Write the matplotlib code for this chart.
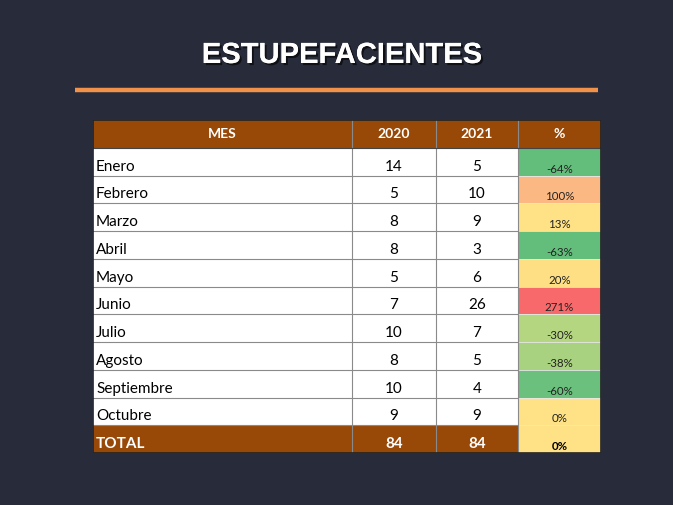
import matplotlib
matplotlib.use("Agg")
import matplotlib.pyplot as plt
from matplotlib.patches import Rectangle
import matplotlib.patheffects as pe

# ---- data ----
months = ["Enero", "Febrero", "Marzo", "Abril", "Mayo", "Junio", "Julio",
          "Agosto", "Septiembre", "Octubre"]
v2020 = [14, 5, 8, 8, 5, 7, 10, 8, 10, 9]
v2021 = [5, 10, 9, 3, 6, 26, 7, 5, 4, 9]
pct = [-64, 100, 13, -63, 20, 271, -30, -38, -60, 0]
pct_colors = ["#63be7b", "#fbb883", "#ffe285", "#63be7b", "#fedf83", "#f8696b",
              "#b5d680", "#a8d27f", "#6ac07c", "#ffe285"]
headers = ["MES", "2020", "2021", "%"]
total_label = "TOTAL"
total_2020 = 84
total_2021 = 84
total_pct = 0
total_pct_color = "#ffe285"
title = "ESTUPEFACIENTES"

# ---- style ----
W, H = 673, 505
bg = "#282c3a"
brown = "#984807"
orange_line = "#f0924a"
font = "Lato"
fs_body = 11
fs_pct = 8.3
ty = 0.68
py = 0.77

fig = plt.figure(figsize=(W / 100, H / 100), dpi=100, facecolor=bg)

# title
fig.text(342 / W, 1 - 55 / H, title, ha="center", va="center", color="white",
         fontsize=21, fontweight="bold", family="Liberation Sans",
         path_effects=[pe.withSimplePatchShadow(offset=(1.5, -1.5), shadow_rgbFace="black", alpha=0.6),
                       pe.Normal()])
# orange rule
fig.add_artist(plt.Line2D([75 / W, 598 / W], [1 - 90 / H, 1 - 90 / H], color=orange_line,
                          lw=3.2, solid_capstyle="butt"))

# table axes
left, right, top, bottom = 93, 601, 120, 453
ax = fig.add_axes([left / W, 1 - bottom / H, (right - left) / W, (bottom - top) / H])
col_w = [259, 84, 82, 83]
edges = [0]
for w in col_w:
    edges.append(edges[-1] + w)
nrows = len(months) + 2
ax.set_xlim(0, edges[-1])
ax.set_ylim(nrows, 0)
ax.axis("off")

def cell(r, c, color):
    ax.add_patch(Rectangle((edges[c], r), col_w[c], 1, facecolor=color,
                           edgecolor="none", zorder=1))

# header
for c, h in enumerate(headers):
    cell(0, c, brown)
    ax.text((edges[c] + edges[c + 1]) / 2, 0.52, h, ha="center", va="center",
            color="white", fontsize=10, fontweight="bold", family=font, zorder=3)

# data rows
for i, m in enumerate(months):
    r = i + 1
    for c in range(3):
        cell(r, c, "white")
    cell(r, 3, pct_colors[i])
    ax.text(edges[0] + 3, r + ty, m, ha="left", va="center", color="black",
            fontsize=fs_body, family=font, zorder=3)
    ax.text((edges[1] + edges[2]) / 2, r + ty, str(v2020[i]), ha="center", va="center",
            color="black", fontsize=fs_body, family=font, zorder=3)
    ax.text((edges[2] + edges[3]) / 2, r + ty, str(v2021[i]), ha="center", va="center",
            color="black", fontsize=fs_body, family=font, zorder=3)
    ax.text((edges[3] + edges[4]) / 2, r + py, f"{pct[i]}%", ha="center", va="center",
            color="#222222", fontsize=fs_pct, family=font, zorder=3)

# total row
rt = nrows - 1
for c in range(3):
    cell(rt, c, brown)
cell(rt, 3, total_pct_color)
ax.text(edges[0] + 3, rt + ty, total_label, ha="left", va="center", color="white",
        fontsize=fs_body, fontweight="bold", family=font, zorder=3)
ax.text((edges[1] + edges[2]) / 2, rt + ty, str(total_2020), ha="center", va="center",
        color="white", fontsize=fs_body, fontweight="bold", family=font, zorder=3)
ax.text((edges[2] + edges[3]) / 2, rt + ty, str(total_2021), ha="center", va="center",
        color="white", fontsize=fs_body, fontweight="bold", family=font, zorder=3)
ax.text((edges[3] + edges[4]) / 2, rt + py, f"{total_pct}%", ha="center", va="center",
        color="black", fontsize=fs_pct, fontweight="bold", family=font, zorder=3)

# grid lines
grid = "#8a8a8a"
for r in range(2, nrows):
    ax.plot([0, edges[3]], [r, r], color=grid, lw=0.8, zorder=2)
    ax.plot([edges[3], edges[4]], [r, r], color="#e8e8e8", lw=0.6, zorder=2)
for c in range(1, 4):
    ax.plot([edges[c], edges[c]], [0, nrows], color=grid, lw=0.8, zorder=2)
ax.plot([0, edges[-1]], [1, 1], color="#444444", lw=0.8, zorder=2)
ax.add_patch(Rectangle((0, 0), edges[-1], nrows, facecolor="none",
                       edgecolor="#222222", lw=1.2, zorder=4))

fig.savefig("out.png", dpi=100, facecolor=bg)
